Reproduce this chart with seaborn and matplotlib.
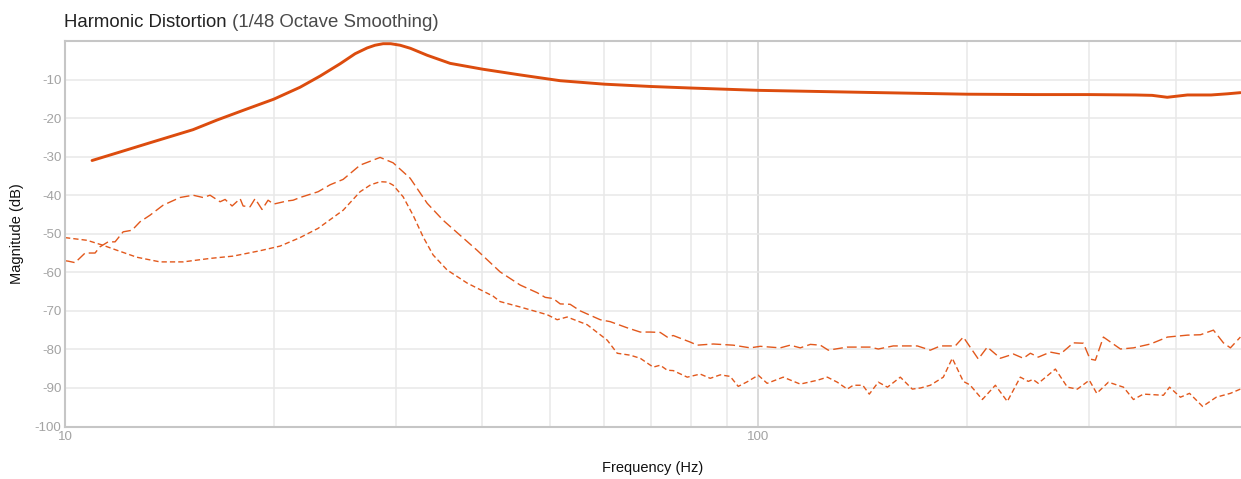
import matplotlib
matplotlib.use("Agg")
import matplotlib.pyplot as plt
import seaborn as sns
import pandas as pd
from matplotlib.ticker import FixedLocator, NullFormatter

# ---------------- data ----------------
main_freq = [10.94, 12.0, 13.26, 15.30, 16.57, 18.19, 20.0, 21.83, 23.33, 24.94,
             26.21, 27.28, 28.0, 28.77, 29.5, 30.44, 31.5, 33.30, 35.94, 40.0,
             45.35, 51.8, 60.0, 70.0, 80.0, 100.0, 150.0, 200.0, 250.0, 300.0,
             350.0, 370.0, 389.0, 416.0, 450.0, 475.0, 496.0]
main_db = [-31.0, -28.8, -26.4, -23.0, -20.5, -17.8, -15.1, -12.0, -9.1, -5.9,
           -3.3, -1.8, -1.1, -0.7, -0.7, -1.1, -1.9, -3.7, -5.8, -7.3,
           -8.8, -10.3, -11.2, -11.8, -12.2, -12.8, -13.4, -13.8, -13.9, -13.9,
           -14.0, -14.1, -14.6, -14.0, -14.0, -13.7, -13.4]

h2_freq = [10.00, 10.10, 10.34, 10.69, 11.05, 11.23, 11.54, 11.81, 12.13, 12.49,
           12.83, 13.26, 13.85, 14.65, 15.30, 15.82, 16.19, 16.74, 17.02, 17.42,
           17.89, 18.07, 18.49, 18.80, 19.24, 19.63, 20.00, 20.91, 21.33, 21.83,
           23.18, 24.12, 25.19, 26.65, 28.48, 29.74, 31.47, 33.30, 35.11, 37.15,
           39.31, 42.43, 45.35, 47.99, 49.28, 50.60, 51.80, 53.54, 55.35, 59.16,
           61.15, 64.71, 67.57, 69.85, 72.21, 73.91, 75.40, 79.77, 81.66, 86.11,
           92.03, 97.38, 100.67, 107.58, 111.2, 114.97, 118.9, 122.9, 126.2, 134.4,
           144.9, 149.0, 156.6, 169.6, 177.1, 183.1, 192.4, 197.6, 207.7, 214.0,
           223.5, 233.4, 241.2, 246.9, 253.5, 263.8, 272.8, 284.8, 294.4, 301.0,
           306.4, 314.7, 333.0, 347.7, 367.9, 389.3, 416.0, 434.4, 453.5, 468.8,
           479.8, 496.0]
h2_db = [-57.0, -57.1, -57.5, -55.0, -55.0, -53.4, -52.1, -52.1, -49.5, -49.1,
         -46.9, -45.2, -42.6, -40.6, -40.0, -40.6, -40.0, -41.7, -41.1, -42.8,
         -40.9, -42.8, -43.0, -40.9, -43.7, -41.3, -42.3, -41.5, -41.3, -40.6,
         -39.1, -37.3, -35.9, -32.2, -30.2, -31.6, -35.6, -42.1, -46.5, -50.4,
         -54.3, -59.9, -63.3, -65.3, -66.5, -66.8, -68.2, -68.3, -70.0, -72.3,
         -72.8, -74.4, -75.5, -75.5, -75.6, -76.8, -76.4, -78.1, -78.9, -78.6,
         -78.9, -79.6, -79.2, -79.6, -78.9, -79.6, -78.7, -78.9, -80.2, -79.4,
         -79.4, -79.9, -79.1, -79.1, -80.2, -79.1, -79.1, -76.8, -82.5, -79.4,
         -82.3, -81.2, -82.3, -81.0, -82.0, -80.7, -81.2, -78.3, -78.4, -82.5,
         -82.8, -76.8, -79.9, -79.6, -78.6, -76.8, -76.3, -76.2, -75.0, -78.3,
         -79.6, -76.8]

h3_freq = [10.00, 10.76, 11.35, 11.89, 12.70, 13.71, 14.80, 16.19, 17.48, 19.12,
           20.43, 21.83, 23.18, 25.19, 26.65, 27.6, 28.48, 29.2, 29.74, 30.74,
           31.78, 32.85, 33.96, 35.58, 38.03, 41.46, 42.43, 45.35, 49.61, 51.28,
           53.01, 56.66, 60.55, 62.60, 65.36, 67.57, 70.55, 72.21, 73.91, 75.40,
           78.99, 82.47, 85.26, 88.15, 91.1, 93.57, 96.4, 100.0, 103.0, 108.66,
           114.97, 121.7, 125.8, 130.0, 134.4, 137.1, 141.5, 144.6, 149.0, 153.6,
           160.3, 166.8, 171.5, 177.1, 184.9, 190.5, 197.6, 202.0, 210.5, 219.8,
           228.7, 238.8, 245.2, 249.0, 253.5, 268.3, 279.2, 288.6, 300.3, 307.8,
           320.0, 336.4, 347.7, 359.4, 384.1, 392.0, 406.4, 418.9, 437.5, 457.8,
           479.8, 496.0]
h3_db = [-51.0, -51.7, -53.0, -54.3, -56.1, -57.3, -57.3, -56.4, -55.8, -54.4,
         -53.2, -51.0, -48.6, -43.9, -39.1, -37.3, -36.5, -36.6, -37.4, -40.4,
         -45.2, -50.8, -55.5, -59.4, -62.8, -66.2, -67.6, -69.0, -71.0, -72.3,
         -71.6, -73.6, -77.6, -81.0, -81.5, -82.3, -84.6, -84.1, -85.4, -85.5,
         -87.2, -86.4, -87.5, -86.6, -87.0, -89.6, -88.4, -86.7, -88.8, -87.2,
         -89.0, -88.0, -87.2, -88.5, -90.3, -89.3, -89.3, -91.6, -88.5, -89.8,
         -87.2, -90.3, -90.0, -89.3, -87.2, -82.3, -88.3, -89.2, -93.0, -89.3,
         -93.5, -87.2, -88.3, -87.8, -88.8, -85.1, -89.8, -90.3, -88.0, -91.4,
         -88.5, -89.8, -93.0, -91.6, -91.9, -89.8, -92.4, -91.4, -94.8, -92.4,
         -91.4, -90.3]

x_major_ticks = [10, 100]
x_major_labels = ["10", "100"]
x_minor_ticks = [20, 30, 40, 50, 60, 70, 80, 90, 200, 300, 400]
y_ticks = [-100, -90, -80, -70, -60, -50, -40, -30, -20, -10]
y_tick_labels = ["-100", "-90", "-80", "-70", "-60", "-50", "-40", "-30", "-20", "-10"]

title_main = "Harmonic Distortion"
title_sub = " (1/48 Octave Smoothing)"
x_label = "Frequency (Hz)"
y_label = "Magnitude (dB)"

# ---------------- style ----------------
sns.set_theme(style="white")
plt.rcParams['font.family'] = ['Liberation Sans', 'DejaVu Sans']

LINE_COLOR = "#DC4C0E"
DASH_COLOR = "#E2581C"
GRID_COLOR = "#e8e8e8"
SPINE_COLOR = "#c6c6c6"
TICK_COLOR = "#a3a3a3"

W, H = 1241, 479
fig = plt.figure(figsize=(W / 100, H / 100), dpi=100)
ax = fig.add_axes([65 / W, 1 - 426.5 / H, (W - 65) / W, (426.5 - 41) / H])

df_h3 = pd.DataFrame({"freq": h3_freq, "db": h3_db})
df_h2 = pd.DataFrame({"freq": h2_freq, "db": h2_db})
df_main = pd.DataFrame({"freq": main_freq, "db": main_db})

sns.lineplot(data=df_h3, x="freq", y="db", ax=ax, color=DASH_COLOR, lw=1.0,
             estimator=None, sort=False)
ax.lines[-1].set_dashes([3.8, 2.2])
sns.lineplot(data=df_h2, x="freq", y="db", ax=ax, color=DASH_COLOR, lw=1.0,
             estimator=None, sort=False)
ax.lines[-1].set_dashes([7.0, 3.0])
sns.lineplot(data=df_main, x="freq", y="db", ax=ax, color=LINE_COLOR, lw=2.1,
             estimator=None, sort=False)

ax.set_xscale("log")
ax.set_xlim(10, 497)
ax.set_ylim(-100, 0)

ax.xaxis.set_major_locator(FixedLocator(x_major_ticks))
ax.set_xticklabels(x_major_labels)
ax.xaxis.set_minor_locator(FixedLocator(x_minor_ticks))
ax.xaxis.set_minor_formatter(NullFormatter())
ax.set_yticks(y_ticks)
ax.set_yticklabels(y_tick_labels)

ax.set_axisbelow(True)
ax.grid(which="major", axis="both", color=GRID_COLOR, lw=1.1)
ax.grid(which="minor", axis="x", color=GRID_COLOR, lw=1.1)
for gl, t in zip(ax.get_xgridlines(), x_major_ticks):
    if t == 100:
        gl.set_color("#d0d0d0")

ax.tick_params(axis="both", which="both", length=0, labelcolor=TICK_COLOR,
               labelsize=9.6)
ax.tick_params(axis="y", pad=2.5)
ax.tick_params(axis="x", pad=3.5)

for side in ["left", "bottom", "top"]:
    ax.spines[side].set_color(SPINE_COLOR)
    ax.spines[side].set_linewidth(1.5)
ax.spines["right"].set_visible(False)

ax.set_xlabel(x_label, fontsize=10.5, color="#111111", va="center")
ax.xaxis.set_label_coords(0.5, (426.5 - 468) / 385.5)
ax.set_ylabel(y_label, fontsize=10.5, color="#111111", va="center")
ax.yaxis.set_label_coords((17 - 65) / 1176, 0.5)

t1 = fig.text(64 / W, 1 - 26.7 / H, title_main, fontsize=13.4, color="#222222",
              va="baseline", ha="left")
fig.canvas.draw()
bb = t1.get_window_extent()
fig.text(bb.x1 / W, 1 - 26.7 / H, title_sub, fontsize=13.4, color="#4a4a4a",
         va="baseline", ha="left")

fig.savefig("out.png", dpi=100)
